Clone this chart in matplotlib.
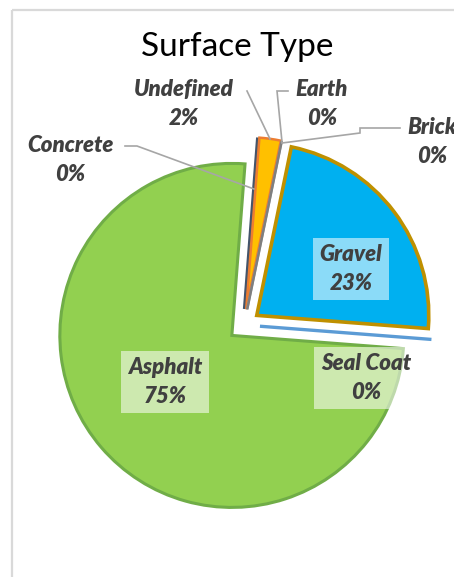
import matplotlib
matplotlib.use("Agg")
import matplotlib.pyplot as plt
from matplotlib.patches import Rectangle

# Share of network length by surface type (%)
surfaces = ["Concrete", "Undefined", "Earth", "Brick", "Gravel", "Seal Coat", "Asphalt"]
shares = [0, 2, 0, 0, 23, 0, 75]

fills = ["#44546A", "#FFC000", "#A5A5A5", "#7F7F7F", "#00B0F0", "#5B9BD5", "#92D050"]
edges = ["#44546A", "#ED7D31", "#A5A5A5", "#7F7F7F", "#BF9000", "#5B9BD5", "#70AD47"]
widths = [3.4, 1.8, 1.6, 1.8, 2.6, 2.4, 2.2]

# label anchor (x, y) in pixels from top-left, plus leader line points
label_pos = {
    "Concrete": (70, 160),
    "Undefined": (184, 104),
    "Earth": (322, 104),
    "Brick": (432, 142),
    "Gravel": (351, 269),
    "Seal Coat": (366, 378),
    "Asphalt": (165, 382),
}
leaders = {
    "Concrete": [(125, 146), (137, 146), (254, 189)],
    "Undefined": [(247, 91), (270, 139)],
    "Earth": [(288, 91), (277, 91), (282, 142)],
    "Brick": [(400, 128), (360, 128), (360, 133), (282, 143)],
}
inside = ["Gravel", "Seal Coat", "Asphalt"]

fig = plt.figure(figsize=(4.54, 5.77), dpi=100)
ax = fig.add_axes([0, 0, 1, 1])

wedges, _ = ax.pie(shares, radius=172, center=(244, 325), startangle=-85.6,
                   counterclock=True, explode=[16] * len(shares), colors=fills,
                   wedgeprops=dict(joinstyle="miter"))
for w, ec, lw in zip(wedges, edges, widths):
    w.set_edgecolor(ec)
    w.set_linewidth(lw)

ax.set_xlim(0, 454)
ax.set_ylim(577, 0)
ax.set_aspect("equal")
ax.axis("off")

# chart area border
ax.add_patch(Rectangle((12, 10), 600, 700, fill=False, ec="#D9D9D9", lw=1.6))

ax.text(237, 47, "Surface Type", ha="center", va="center", fontsize=24,
        family="Lato", color="black")

for name, pts in leaders.items():
    xs, ys = zip(*pts)
    ax.plot(xs, ys, color="#A6A6A6", lw=1.2, solid_joinstyle="miter")

total = sum(shares)
for name, val in zip(surfaces, shares):
    x, y = label_pos[name]
    txt = f"{name}\n{round(val / total * 100)}%"
    box = None
    if name in inside:
        box = dict(boxstyle="square,pad=0.3", fc=(1, 1, 1, 0.55), ec="none")
    ax.text(x, y, txt, ha="center", va="center", fontsize=16, family="Lato",
            weight="heavy", style="italic", color="#404040", linespacing=1.45,
            bbox=box)

fig.savefig("out.png", dpi=100)
